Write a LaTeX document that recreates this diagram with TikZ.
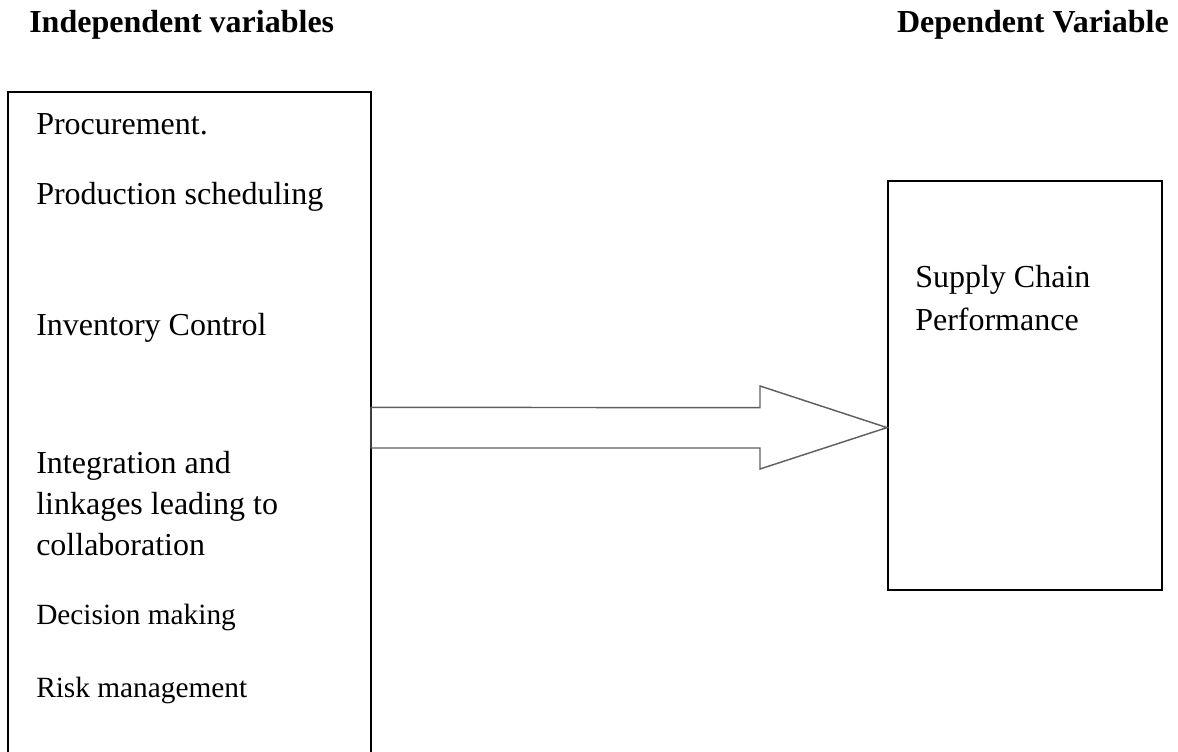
\documentclass[tikz,border=0pt]{standalone}
\usepackage{fontspec}
\setmainfont{Liberation Serif}
\definecolor{arrowgray}{HTML}{606060}
\begin{document}
\begin{tikzpicture}[x=0.75pt,y=-0.75pt,
  box/.style={draw=black,line width=1.5pt},
  body/.style={anchor=base west,inner sep=0pt,font=\fontsize{24}{28}\selectfont},
  small/.style={anchor=base west,inner sep=0pt,font=\fontsize{22}{26}\selectfont},
  head/.style={inner sep=0pt,font=\bfseries\fontsize{24}{28}\selectfont},
  blockarrow/.style={draw=arrowgray,line width=1.1pt,line join=miter}]
\useasboundingbox (0,0) rectangle (1178,752);
% headings
\node[head,anchor=base west] (hiv) at (29,33) {Independent variables};
\node[head,anchor=base east] (hdv) at (1169,33) {Dependent Variable};
% left box (open at the bottom)
\coordinate (lbl) at (8,752);
\coordinate (ltl) at (8,92);
\coordinate (ltr) at (371,92);
\coordinate (lbr) at (371,752);
\draw[box] (lbl) -- (ltl) -- (ltr) -- (lbr);
\node[body] (t1) at (36,135) {Procurement.};
\node[body] (t2) at (36,205) {Production scheduling};
\node[body] (t3) at (36,335) {Inventory Control};
\node[body] (t4) at (36,473) {Integration and};
\node[body] (t5) at (36,514) {linkages leading to};
\node[body] (t6) at (36,555) {collaboration};
\node[small] (t7) at (36,624) {Decision making};
\node[small] (t8) at (36,697) {Risk management};
% right box
\node[box,anchor=north west,inner sep=0pt,minimum width=205.5pt,minimum height=306.75pt] (dv) at (887,180) {};
\node[body] (s1) at (915,288) {Supply Chain};
\node[body] (s2) at (915,330) {Performance};
% block arrow from left box to right box
\coordinate (astart) at (371,427.6);
\coordinate (atip) at (dv.west |- astart);
\draw[blockarrow] ([yshift=15.15pt]astart) -- (760,407.6) -- (760,386) -- (atip)
  -- (760,469) -- (760,448) -- ([yshift=-15.3pt]astart) -- cycle;
\end{tikzpicture}
\end{document}
